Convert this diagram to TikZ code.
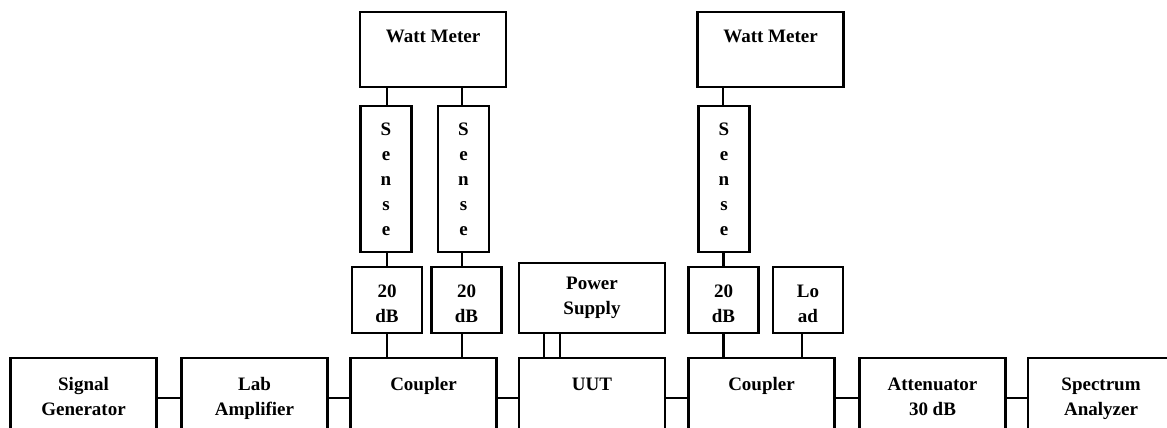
\documentclass[tikz,border=0pt]{standalone}
\usepackage{fontspec}
\setmainfont{Liberation Serif}
\begin{document}
\begin{tikzpicture}[x=1pt,y=-1pt,
  box/.style={draw=black, line width=2.5pt, rectangle, align=center,
    font=\fontsize{19}{25}\selectfont\bfseries, inner sep=2pt},
  bot/.style={box, minimum width=146pt, minimum height=80pt, text height=39pt, text depth=5pt},
  oneline/.style={text height=13pt, text depth=29pt},
  wm/.style={box, minimum width=146pt, minimum height=75pt, text height=14pt, text depth=27pt},
  sense/.style={box, minimum width=51pt, minimum height=146pt},
  small/.style={box, minimum width=70pt, minimum height=66pt, text height=45pt, text depth=1pt},
  wire/.style={line width=2.5pt}]
\useasboundingbox (0,0) rectangle (1167,428);
% bottom row
\node[bot] (sg) at (83.5,398) {Signal\\Generator};
\node[bot] (la) at (254.5,398) {Lab\\Amplifier};
\node[bot, oneline] (c1) at (423.5,398) {Coupler};
\node[bot, oneline] (uut) at (592,398) {UUT};
\node[bot, oneline] (c2) at (761.5,398) {Coupler};
\node[bot] (att) at (932.5,398) {Attenuator\\30 dB};
\node[bot] (sa) at (1101,398) {Spectrum\\Analyzer};
% top
\node[wm] (wm1) at (433,49.5) {Watt Meter};
\node[wm] (wm2) at (770.5,49.5) {Watt Meter};
\node[sense] (s1) at (386,179) {S\\e\\n\\s\\e};
\node[sense] (s2) at (463.5,179) {S\\e\\n\\s\\e};
\node[sense] (s3) at (724,179) {S\\e\\n\\s\\e};
\node[small] (d1) at (387,300) {20\\dB};
\node[small] (d2) at (466.5,300) {20\\dB};
\node[small] (d3) at (723.5,300) {20\\dB};
\node[small] (ld) at (808,300) {Lo\\ad};
\node[box, minimum width=146pt, minimum height=70pt] (ps) at (592,298) {Power\\Supply};
% horizontal connectors
\draw[wire] (sg.east) -- (la.west);
\draw[wire] (la.east) -- (c1.west);
\draw[wire] (c1.east) -- (uut.west);
\draw[wire] (uut.east) -- (c2.west);
\draw[wire] (c2.east) -- (att.west);
\draw[wire] (att.east) -- (sa.west);
% vertical connectors
\draw[wire] ([xshift=1pt]s1.north) -- ([xshift=1pt]s1.north |- wm1.south);
\draw[wire] ([xshift=-1.5pt]s2.north) -- ([xshift=-1.5pt]s2.north |- wm1.south);
\draw[wire] ([xshift=-1pt]s3.north) -- ([xshift=-1pt]s3.north |- wm2.south);
\draw[wire] (d1.north) -- (d1.north |- s1.south);
\draw[wire] ([xshift=-1.5pt]s2.south) -- ([xshift=-1.5pt]s2.south |- d2.north);
\draw[wire] (d3.north) -- (d3.north |- s3.south);
\draw[wire] (d1.south) -- (d1.south |- c1.north);
\draw[wire] ([xshift=-1.5pt]s2.south |- d2.south) -- ([xshift=-1.5pt]s2.south |- c1.north);
\draw[wire] (d3.south) -- (d3.south |- c2.north);
\draw[wire] ([xshift=-6pt]ld.south) -- ([xshift=-6pt]ld.south |- c2.north);
\draw[wire] ([xshift=-48pt]ps.south) -- ([xshift=-48pt]ps.south |- uut.north);
\draw[wire] ([xshift=-32pt]ps.south) -- ([xshift=-32pt]ps.south |- uut.north);
\end{tikzpicture}
\end{document}
